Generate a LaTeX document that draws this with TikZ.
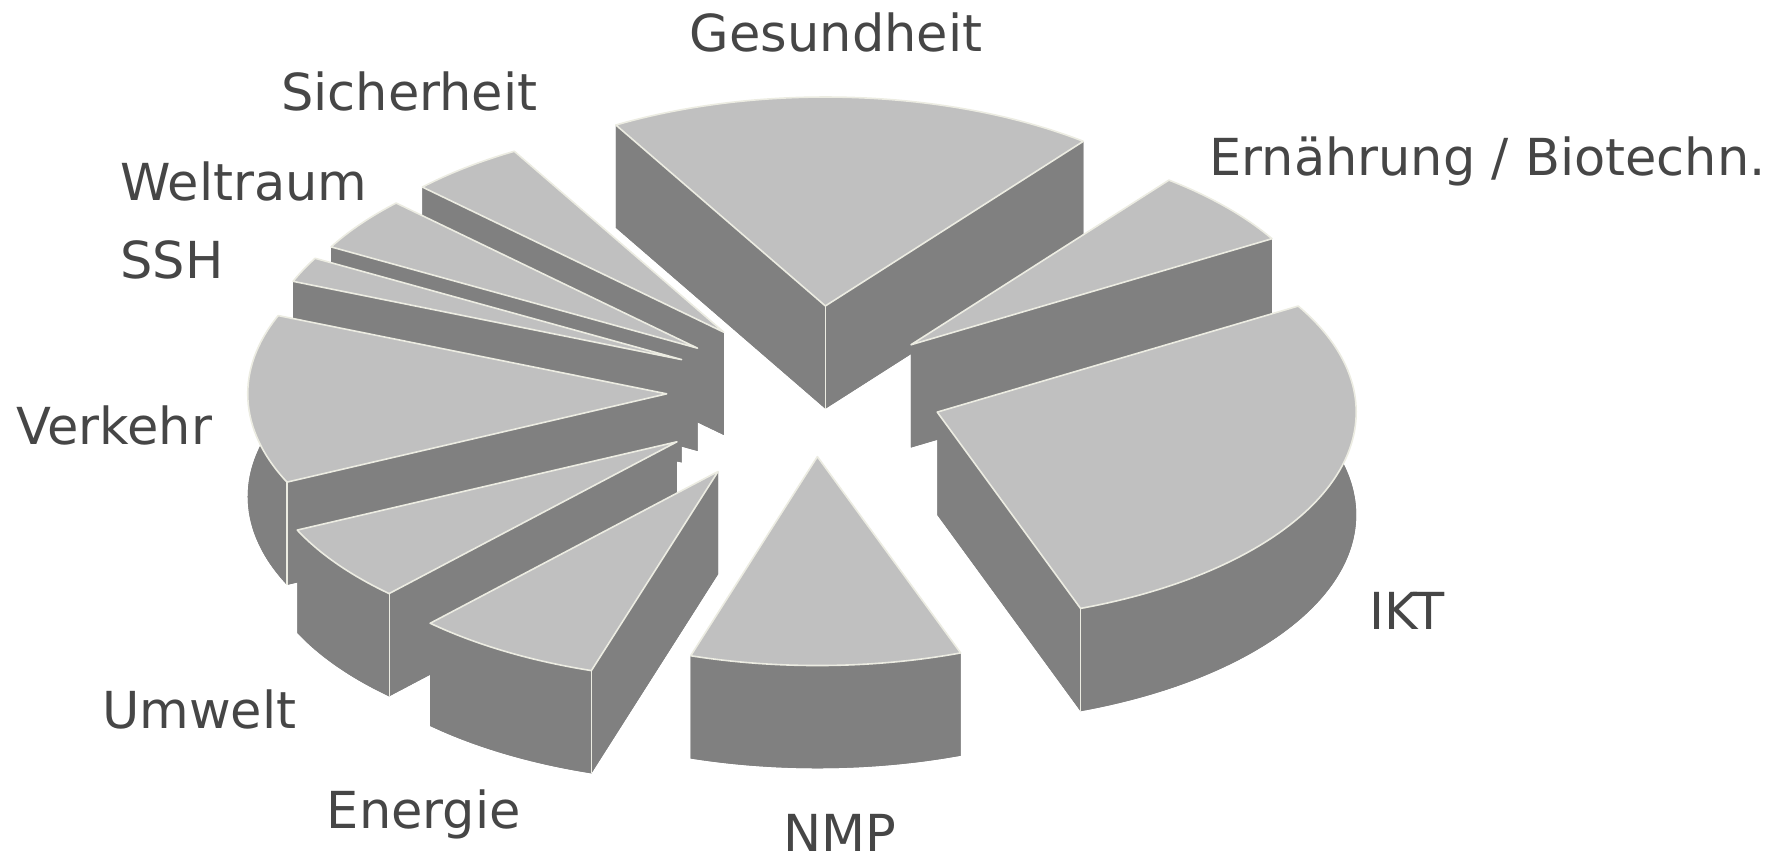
\documentclass[tikz,border=0pt]{standalone}
\usepackage{fontspec}
\setmainfont{DejaVu Sans}
\usetikzlibrary{positioning}
\definecolor{topgray}{RGB}{192,192,192}
\definecolor{sidegray}{RGB}{128,128,128}
\definecolor{rimcol}{RGB}{236,236,226}
\definecolor{labelgray}{RGB}{70,70,70}

\begin{document}
\begin{tikzpicture}[x=0.5708pt, y=0.5708pt,
	side/.style={fill=sidegray},
	top/.style={fill=topgray, draw=rimcol, line width=0.8pt, line join=round},
	rim/.style={draw=rimcol, line width=0.6pt},
	lbl/.style={anchor=base west, inner sep=0pt, text=labelgray, font=\fontsize{25.5}{30}\selectfont}]
	
	\useasboundingbox (0,0) rectangle (1568,757);
	
	% Slices, back to front: apex x/y, start angle, end angle
	\foreach \ax/\ay/\ta/\tb in {634/466/120/136, 611/452/136/151, 597/442/151/158,
		584/412/158/205, 593/370/205/226.6, 629/344/226.6/252.4, 723/489/52/120,
		798/455/30.5/52, 821/396/-70/30.5, 716/357/252.4/290}{
		\fill[side] (\ax,\ay-90) -- ++(\ta:367 and 183) arc[start angle=\ta, end angle=\tb, x radius=367, y radius=183] -- cycle;
		\fill[side] (\ax,\ay) -- ++(\ta:367 and 183) -- ++(0,-90) -- (\ax,\ay-90) -- cycle;
		\fill[side] (\ax,\ay) -- ++(\tb:367 and 183) -- ++(0,-90) -- (\ax,\ay-90) -- cycle;
		\fill[side] (\ax,\ay) ++(\ta:367 and 183) arc[start angle=\ta, end angle=\tb, x radius=367, y radius=183]
			-- ++(0,-90) arc[start angle=\tb, end angle=\ta, x radius=367, y radius=183] -- cycle;
		\draw[top] (\ax,\ay) -- ++(\ta:367 and 183) arc[start angle=\ta, end angle=\tb, x radius=367, y radius=183] -- cycle;
	}
	
	% Corner edges
	\draw[rim] (723,489) -- ++(0,-90);
	\draw[rim] (821,396) ++(-70:367 and 183) -- ++(0,-90);
	\draw[rim] (584,412) ++(205:367 and 183) -- ++(0,-90);
	\draw[rim] (593,370) ++(226.6:367 and 183) -- ++(0,-90);
	\draw[rim] (629,344) ++(252.4:367 and 183) -- ++(0,-90);
	
	% Labels
	\node[lbl] (gesundheit) at (604,712) {Gesundheit};
	\node[lbl] (sicherheit) at (246,660) {Sicherheit};
	\node[lbl] (weltraum) at (105,581) {Weltraum};
	\node[lbl] (ssh) at (105,513) {SSH};
	\node[lbl] (verkehr) at (14,368) {Verkehr};
	\node[lbl] (umwelt) at (89,119) {Umwelt};
	\node[lbl] (energie) at (286,31) {Energie};
	\node[lbl] (nmp) at (686,11) {NMP};
	\node[lbl] (ikt) at (1199,206) {IKT};
	\node[lbl] (ernaehrung) at (1059,603) {Ernährung / Biotechn.};
\end{tikzpicture}
\end{document}
